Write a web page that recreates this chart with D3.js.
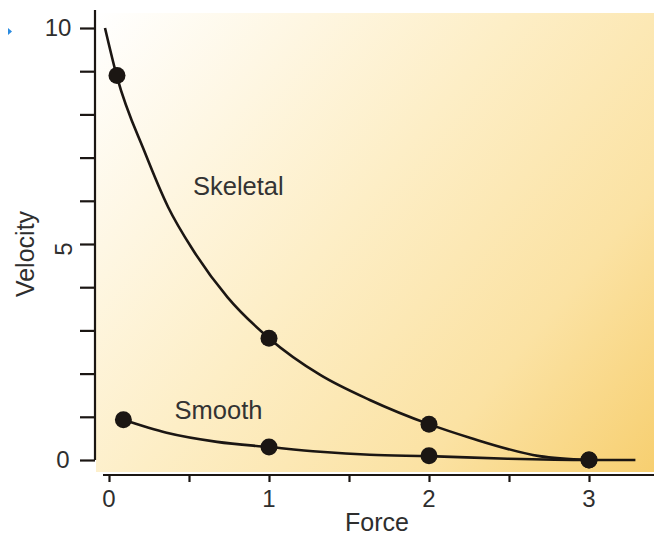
<!DOCTYPE html>
<html><head><meta charset="utf-8">
<script src="https://cdn.jsdelivr.net/npm/d3@7"></script>
<style>html,body{margin:0;padding:0;background:#fff;}svg{display:block;}</style>
</head><body>
<svg id="c" width="654" height="536"></svg>
<script>
// ---- data ----
const skeletalPoints = [[0.05, 8.9], [1, 2.82], [2, 0.83], [3, 0]];
const smoothPoints = [[0.09, 0.93], [1, 0.30], [2, 0.1], [3, 0]];
const skeletalCurve = [[-0.025, 10.0], [0.05, 8.87], [0.225, 7.11], [0.37, 5.85], [0.525, 4.86], [0.74, 3.77], [1.0, 2.82], [1.32, 1.97], [1.63, 1.39], [2.0, 0.83], [2.26, 0.51], [2.69, 0.09], [3.0, 0.0]];
const smoothCurve = [[0.09, 0.93], [0.36, 0.63], [0.675, 0.42], [1.0, 0.30], [1.32, 0.19], [1.63, 0.12], [2.0, 0.09], [2.49, 0.03], [3.0, 0.0], [3.29, 0.0]];
const xTickLabels = [0, 1, 2, 3];
const xMinorTicks = [0, 0.5, 1, 1.5, 2, 2.5, 3];
const yTickLabels = [0, 5, 10];
const yMinorTicks = [0, 1, 2, 3, 4, 5, 6, 7, 8, 9, 10];
const seriesLabels = [{name: "Skeletal", x: 0.525, y: 6.13}, {name: "Smooth", x: 0.41, y: 0.95}];

const svg = d3.select("#c");
const x = d3.scaleLinear().domain([0, 3]).range([109, 589]);
const y = d3.scaleLinear().domain([0, 10]).range([460, 28]);
const FONT = "'Liberation Sans', Arial, Helvetica, sans-serif";
const INK = "#1b1613";
const TXT = "#2e2e2e";

// background gradient
const defs = svg.append("defs");
const g = defs.append("linearGradient").attr("id", "bg")
  .attr("gradientUnits", "userSpaceOnUse")
  .attr("x1", 96).attr("y1", 13).attr("x2", 654).attr("y2", 472);
g.append("stop").attr("offset", 0).attr("stop-color", "#ffffff");
g.append("stop").attr("offset", 0.45).attr("stop-color", "#fdeec6");
g.append("stop").attr("offset", 0.75).attr("stop-color", "#fbe2a3");
g.append("stop").attr("offset", 1).attr("stop-color", "#f7cf70");
svg.append("rect").attr("x", 96).attr("y", 13).attr("width", 654 - 96).attr("height", 472 - 13).attr("fill", "url(#bg)");

// small blue mark at top-left
svg.append("path").attr("d", "M8,28 L12,31.5 L8,35 Z").attr("fill", "#2a8be0");

// y axis
const yAxis = d3.axisLeft(y).tickValues(yMinorTicks).tickSize(15).tickFormat("");
const ya = svg.append("g").attr("transform", "translate(95,0)").call(yAxis);
ya.select(".domain").attr("d", `M0,10V${y(0)}`).attr("stroke", INK).attr("stroke-width", 2.2);
ya.selectAll(".tick line").attr("stroke", INK).attr("stroke-width", 2.2);

svg.selectAll("text.ylab").data(yTickLabels).join("text").attr("class", "ylab")
  .attr("font-family", FONT).attr("font-size", 24).attr("fill", TXT)
  .attr("text-anchor", "middle").attr("dominant-baseline", "central")
  .attr("transform", d => d === 5 ? `translate(63,${y(d) + 5}) rotate(-90)` : `translate(${d === 10 ? 58 : 63},${y(d) - 1})`)
  .text(d => d);

// x axis
const xAxis = d3.axisBottom(x).tickValues(xMinorTicks).tickSize(7).tickFormat("");
const xa = svg.append("g").attr("transform", "translate(0,475)").call(xAxis);
xa.select(".domain").attr("d", "M103,0H654").attr("stroke", INK).attr("stroke-width", 2.2);
xa.selectAll(".tick line").attr("stroke", INK).attr("stroke-width", 2.2);

svg.selectAll("text.xlab").data(xTickLabels).join("text").attr("class", "xlab")
  .attr("font-family", FONT).attr("font-size", 24).attr("fill", TXT)
  .attr("text-anchor", "middle").attr("x", d => x(d)).attr("y", 507)
  .text(d => d);

// axis titles
svg.append("text").attr("font-family", FONT).attr("font-size", 25).attr("fill", TXT)
  .attr("text-anchor", "middle").attr("x", 377).attr("y", 531).text("Force");
svg.append("text").attr("font-family", FONT).attr("font-size", 25).attr("fill", TXT)
  .attr("text-anchor", "middle").attr("transform", "translate(34,254) rotate(-90)").text("Velocity");

// curves
const line = d3.line().x(d => x(d[0])).y(d => y(d[1])).curve(d3.curveMonotoneX);
[skeletalCurve, smoothCurve].forEach(c => {
  svg.append("path").attr("d", line(c)).attr("fill", "none").attr("stroke", INK).attr("stroke-width", 2.6);
});

// points
svg.selectAll("circle.sk").data(skeletalPoints).join("circle").attr("class", "sk")
  .attr("cx", d => x(d[0])).attr("cy", d => y(d[1])).attr("r", 8.5).attr("fill", INK);
svg.selectAll("circle.sm").data(smoothPoints).join("circle").attr("class", "sm")
  .attr("cx", d => x(d[0])).attr("cy", d => y(d[1])).attr("r", 8.5).attr("fill", INK);

// series labels
svg.selectAll("text.series").data(seriesLabels).join("text").attr("class", "series")
  .attr("font-family", FONT).attr("font-size", 25.5).attr("fill", "#333")
  .attr("x", d => x(d.x)).attr("y", d => y(d.y)).text(d => d.name);
</script>
</body></html>
